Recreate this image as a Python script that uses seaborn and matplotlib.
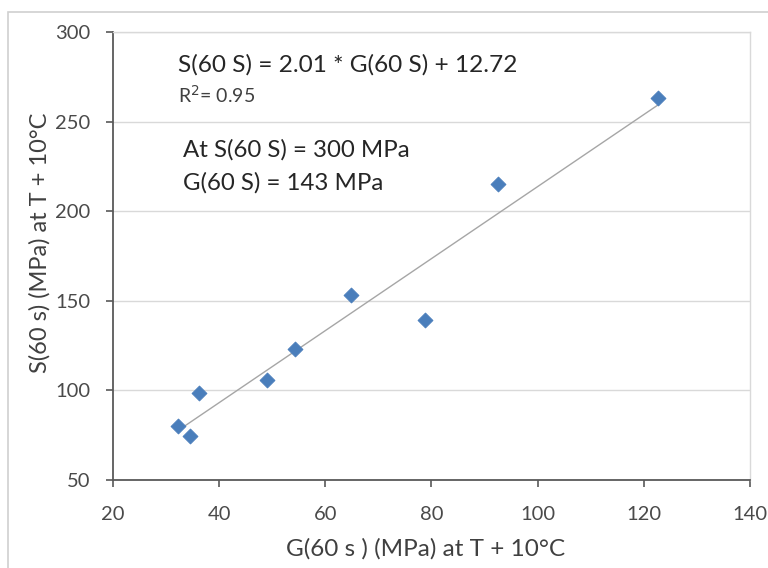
import numpy as np
import pandas as pd
import matplotlib
matplotlib.use('Agg')
import matplotlib.pyplot as plt
import seaborn as sns

# values
g_60s = [32.2, 34.5, 36.2, 49.0, 54.3, 64.8, 78.8, 92.5, 122.7]
s_60s = [80.0, 74.5, 98.5, 105.8, 123.0, 153.0, 139.0, 215.0, 263.0]
slope = 2.01
intercept = 12.72
r_squared = 0.95

sns.set_style('white')
plt.rcParams['font.family'] = ['Lato', 'DejaVu Sans']

df = pd.DataFrame({'G': g_60s, 'S': s_60s})
fit_x = np.array([min(g_60s), max(g_60s)])
fit = pd.DataFrame({'G': fit_x, 'S': slope * fit_x + intercept})

fig = plt.figure(figsize=(7.68, 5.68), dpi=100)
ax = fig.add_axes([0.147, 0.155, 0.8296, 0.7887])

# outer chart border
fig.patches.append(plt.Rectangle((8 / 768, -0.1), 1.2, 1 - 12 / 568 + 0.1,
                                 transform=fig.transFigure, fill=False,
                                 edgecolor='#d0d0d0', lw=1.2))

sns.lineplot(data=fit, x='G', y='S', ax=ax, color='#a6a6a6', lw=1.0, zorder=2)
sns.scatterplot(data=df, x='G', y='S', ax=ax, marker='D', s=58,
                color='#4a7ebb', edgecolor='#4a7ebb', zorder=3)

ax.set_xlim(20, 140)
ax.set_ylim(50, 300)
ax.set_xticks(range(20, 141, 20))
ax.set_yticks(range(50, 301, 50))
ax.yaxis.grid(True, color='#d9d9d9', lw=1)
ax.set_axisbelow(True)

for side in ['left', 'bottom']:
    ax.spines[side].set_color('#595959')
    ax.spines[side].set_linewidth(1.3)
for side in ['top', 'right']:
    ax.spines[side].set_color('#d9d9d9')
    ax.spines[side].set_linewidth(1.0)

ax.tick_params(axis='both', direction='out', length=5, width=1.2,
               color='#595959', labelsize=14.5, labelcolor='#4a4a4a')
ax.tick_params(axis='x', pad=14)
ax.tick_params(axis='y', pad=11)
ax.tick_params(left=True, bottom=True)

ax.set_xlabel('G(60 s ) (MPa) at T + 10°C', fontsize=17.5, color='#404040', va='center')
ax.set_ylabel('S(60 s) (MPa) at T + 10°C', fontsize=17, color='#404040', va='center')
ax.xaxis.set_label_coords(0.491, -0.154)
ax.yaxis.set_label_coords(-0.1146, 0.529)

ax.text(32.25, 281.6, f'S(60 S) = {slope:.2f} * G(60 S) + {intercept:.2f}',
        fontsize=17.6, color='#262626', ha='left', va='center')
ax.text(32.25, 264.8, f'R$^2$= {r_squared:.2f}', fontsize=14, color='#404040',
        ha='left', va='center')
ax.text(33.2, 234.2, 'At S(60 S) = 300 MPa', fontsize=17.3, color='#262626',
        ha='left', va='center')
ax.text(33.2, 215.7, 'G(60 S) = 143 MPa', fontsize=17.3, color='#262626',
        ha='left', va='center')

fig.savefig('out.png', dpi=100)
